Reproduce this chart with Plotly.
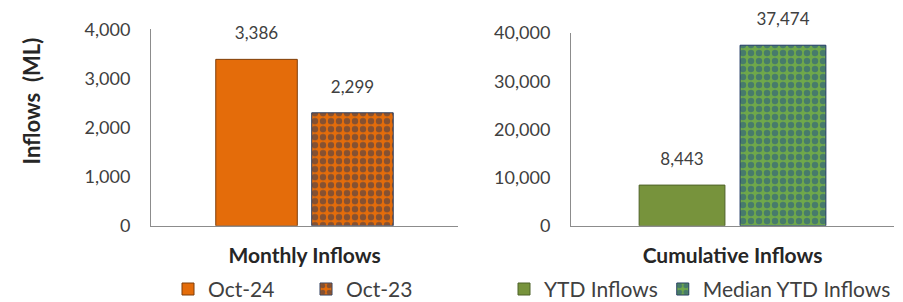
import plotly.graph_objects as go

# ---- data ----
monthly_category = ["Monthly Inflows"]
monthly_series = ["Oct-24", "Oct-23"]
monthly_values = [3386, 2299]

cumulative_category = ["Cumulative Inflows"]
cumulative_series = ["YTD Inflows", "Median YTD Inflows"]
cumulative_values = [8443, 37474]

left_ticks = [0, 1000, 2000, 3000, 4000]
right_ticks = [0, 10000, 20000, 30000, 40000]

# ---- styles ----
FONT = "Lato"
ORANGE = "#E46C0A"
GREEN = "#77933C"
NAVY = "#26365A"
BLUE = "#1F4E8C"
TXT = "#404040"

W, H = 903, 302

fig = go.Figure()

left_styles = [
    dict(color=ORANGE, line=dict(color="#7F3F0A", width=1)),
    dict(color=ORANGE, line=dict(color="#2F3F5F", width=1),
         pattern=dict(shape=".", fgcolor=NAVY, bgcolor=ORANGE, size=8, solidity=0.5)),
]
right_styles = [
    dict(color=GREEN, line=dict(color="#4F6228", width=1)),
    dict(color=GREEN, line=dict(color="#1F3864", width=1),
         pattern=dict(shape=".", fgcolor=BLUE, bgcolor="#6FA84A", size=8, solidity=0.5)),
]

for name, val, st in zip(monthly_series, monthly_values, left_styles):
    fig.add_trace(go.Bar(x=monthly_category, y=[val], name=name, marker=st,
                         xaxis="x", yaxis="y", legend="legend", hoverinfo="skip"))
for name, val in zip(monthly_series, monthly_values):
    fig.add_trace(go.Scatter(x=monthly_category, y=[val], mode="markers+text",
                             text=[f"{val:,}"], textposition="top center",
                             textfont=dict(family=FONT, size=17, color=TXT),
                             marker=dict(size=24, opacity=0), showlegend=False,
                             cliponaxis=False, xaxis="x", yaxis="y", hoverinfo="skip"))

for name, val, st in zip(cumulative_series, cumulative_values, right_styles):
    fig.add_trace(go.Bar(x=cumulative_category, y=[val], name=name, marker=st,
                         xaxis="x2", yaxis="y2", legend="legend2", hoverinfo="skip"))
for name, val in zip(cumulative_series, cumulative_values):
    fig.add_trace(go.Scatter(x=cumulative_category, y=[val], mode="markers+text",
                             text=[f"{val:,}"], textposition="top center",
                             textfont=dict(family=FONT, size=17, color=TXT),
                             marker=dict(size=24, opacity=0), showlegend=False,
                             cliponaxis=False, xaxis="x2", yaxis="y2", hoverinfo="skip"))

def px_x(p):
    return p / W

def px_y(p):
    return (H - p) / H

axis_line = dict(showline=True, linecolor="#8C8C8C", linewidth=1, showgrid=False,
                 zeroline=False, ticks="", automargin=False)

fig.update_layout(
    width=W, height=H,
    margin=dict(l=0, r=0, t=0, b=0),
    paper_bgcolor="white", plot_bgcolor="white",
    barmode="group", bargap=0.375, bargroupgap=0.15,
    scattermode="group", scattergap=0.375,
    font=dict(family=FONT, color=TXT),
    xaxis=dict(domain=[px_x(143), px_x(450)], anchor="y",
               tickfont=dict(family=FONT, size=21, color="#262626", weight="bold"),
               ticklabelstandoff=11, **axis_line),
    yaxis=dict(domain=[px_y(226), px_y(22)], range=[0, 4000], anchor="x",
               tickvals=left_ticks, tickformat=",d",
               tickfont=dict(family=FONT, size=18, color=TXT),
               ticklabelstandoff=16, **axis_line),
    xaxis2=dict(domain=[px_x(563), px_x(886)], anchor="y2",
                tickfont=dict(family=FONT, size=21, color="#262626", weight="bold"),
                ticklabelstandoff=11, **axis_line),
    yaxis2=dict(domain=[px_y(226), px_y(26)], range=[0, 40000], anchor="x2",
                tickvals=right_ticks, tickformat=",d",
                tickfont=dict(family=FONT, size=18, color=TXT),
                ticklabelstandoff=16, **axis_line),
    legend=dict(orientation="h", x=px_x(160), y=px_y(292), xanchor="left", yanchor="middle",
                font=dict(family=FONT, size=21, color=TXT), bgcolor="rgba(0,0,0,0)",
                entrywidth=93, traceorder="normal"),
    legend2=dict(orientation="h", x=px_x(496), y=px_y(292), xanchor="left", yanchor="middle",
                 font=dict(family=FONT, size=21, color=TXT), bgcolor="rgba(0,0,0,0)",
                 traceorder="normal"),
    annotations=[dict(text="<b>Inflows  (ML)</b>", x=px_x(23), y=px_y(97), xref="paper", yref="paper",
                      textangle=-90, showarrow=False, xanchor="center", yanchor="middle",
                      font=dict(family=FONT, size=22, color="#262626"))],
    showlegend=True,
)

fig.write_html("out.html")
